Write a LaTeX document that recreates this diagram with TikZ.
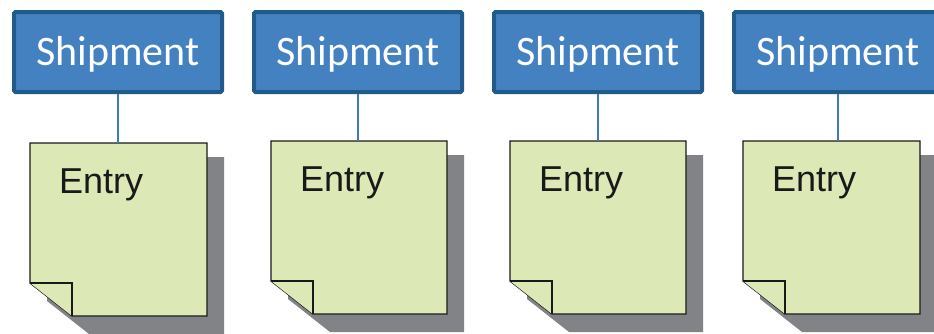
\documentclass[tikz,border=0pt]{standalone}
\usepackage{fontspec}
\newfontfamily\shipfont{Carlito}
\newfontfamily\entryfont{Liberation Sans}
\definecolor{boxfill}{HTML}{4381C1}
\definecolor{boxedge}{HTML}{1F5B8B}
\definecolor{notefill}{HTML}{DCE8B6}
\definecolor{shadowgray}{HTML}{828387}
\definecolor{linkblue}{HTML}{3A7DBE}
\begin{document}
\begin{tikzpicture}[x=1pt,y=-1pt,
  shipbox/.style={draw=boxedge, fill=boxfill, line width=4pt, rounded corners=1.5pt,
    minimum width=208pt, minimum height=80pt, inner sep=0pt, text=white,
    text height=28pt, text depth=1pt, font=\shipfont\fontsize{42}{42}\selectfont},
  notearea/.style={minimum width=#1, minimum height=173pt, inner sep=0pt, outer sep=0pt, anchor=north west},
  notetext/.style={anchor=base west, inner sep=0pt, text=black!90, font=\entryfont\fontsize{36}{36}\selectfont},
  noteedge/.style={draw=black!90, line width=1.3pt, fill=notefill, line join=miter},
  link/.style={draw=linkblue, line width=1.5pt}]
\useasboundingbox (0,0) rectangle (934,333);
\clip (0,0) rectangle (934,333);
\foreach \i/\bx/\nx/\ny/\nw in {1/118/30/143/177, 2/358/271/141/176, 3/598/510/141/176, 4/838/743/141/177} {
  % shadow
  \fill[shadowgray] (\nx+17,\ny+14) -- (\nx+\nw+17,\ny+14) -- (\nx+\nw+17,\ny+173+18)
     -- (\nx+42+17,\ny+173+18) -- (\nx+17,\ny+140+18) -- cycle;
  % note body
  \node[notearea=\nw pt] (e\i) at (\nx,\ny) {};
  \path[noteedge] (e\i.north west) -- (e\i.north east) -- (e\i.south east)
     -- ([xshift=42pt]e\i.south west) -- ([yshift=33pt]e\i.south west) -- cycle;
  \path[noteedge] ([yshift=33pt]e\i.south west) -- ([xshift=42pt,yshift=33pt]e\i.south west)
     -- ([xshift=42pt]e\i.south west);
  \node[notetext] (t\i) at (\nx+29,\ny+50) {Entry};
  % shipment box
  \node[shipbox] (s\i) at (\bx,52) {Shipment};
  \draw[link] (s\i.south) -- (s\i.south |- e\i.north);
}
\end{tikzpicture}
\end{document}
